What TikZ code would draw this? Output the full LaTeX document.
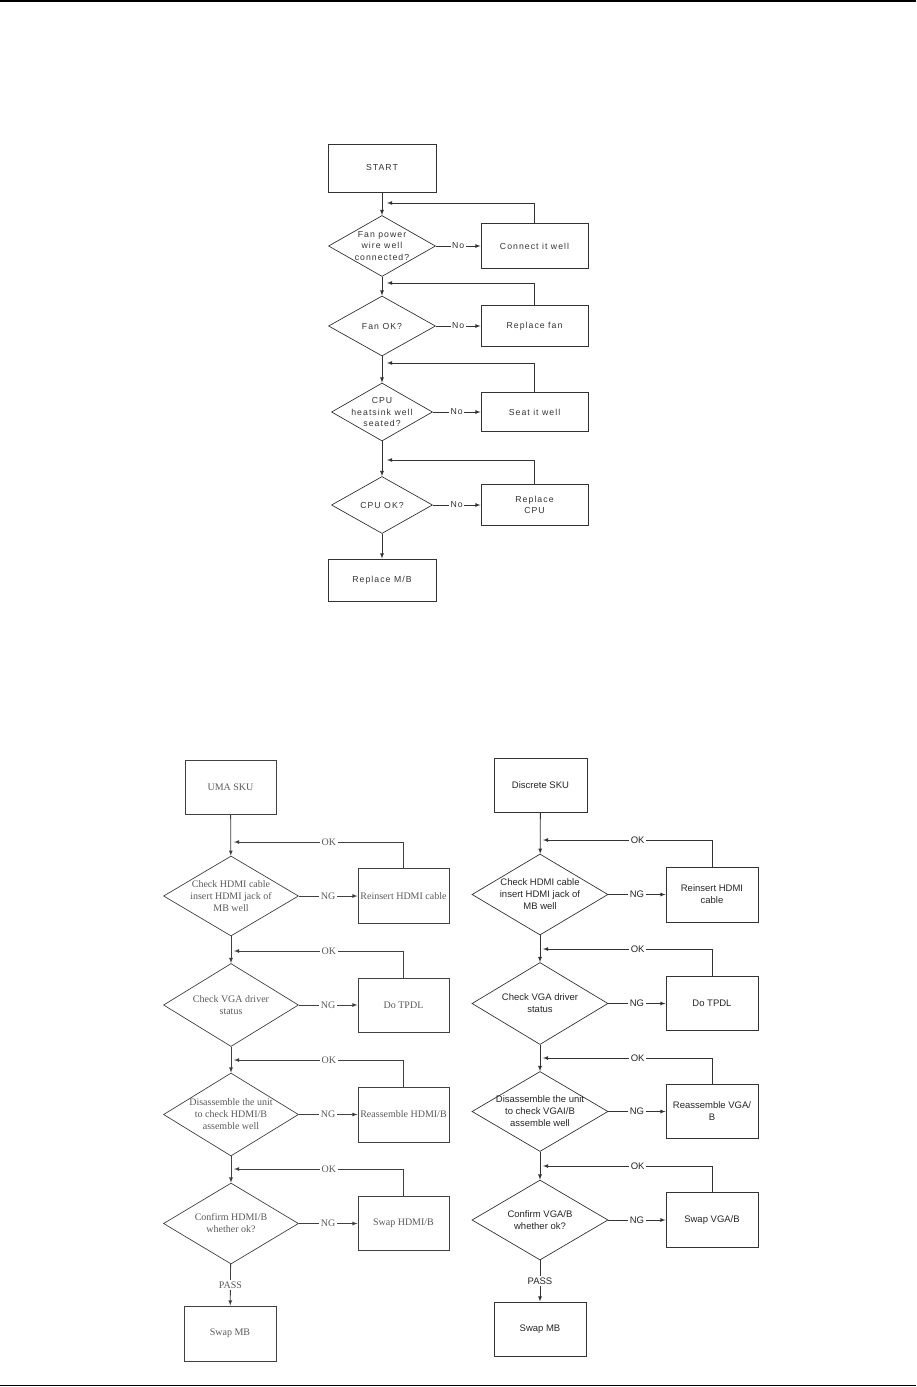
\documentclass[tikz,border=0pt]{standalone}
\usepackage{fontspec}
\setmainfont{Liberation Serif}
\setsansfont{Liberation Sans}
\newfontfamily\spacedsf[LetterSpace=12]{Liberation Sans}
\usepackage{tikz}
\usetikzlibrary{arrows}
\usetikzlibrary{shapes.geometric}
\definecolor{graytext}{HTML}{5A5A5A}
\definecolor{darkline}{HTML}{333333}

\begin{document}
\begin{tikzpicture}[x=1pt,y=-1pt,
  box/.style 2 args={draw,rectangle,line width=1pt,minimum width=#1pt,minimum height=#2pt,inner sep=1pt,align=center},
  dia/.style 2 args={draw,diamond,line width=0.7pt,minimum width=#1pt,minimum height=#2pt,inner sep=0pt},
  tag/.style={fill=white,inner sep=1.5pt},
  flow/.style={line width=0.8pt,-latex}]
\useasboundingbox (0,0) rectangle (916,1387);
% page rules
\draw[line width=1.5pt] (0,1) -- (916,1);
\draw[line width=1.5pt] (0,1385.5) -- (916,1385.5);

%% fan / cpu chart
\begin{scope}[font=\spacedsf\fontsize{8.7}{11.5}\selectfont,color=darkline]
\node[box={108}{48}] (start) at (382,168) {START};
\node[dia={107}{61},label={[align=center]center:Fan power\\wire well\\connected?}] (q1) at (382,246) {};
\node[dia={107}{60},label={center:Fan OK?}] (q2) at (382,326) {};
\node[dia={101}{58},label={[align=center]center:CPU\\heatsink well\\seated?}] (q3) at (382,412) {};
\node[dia={101}{57},label={center:CPU OK?}] (q4) at (382,505) {};
\node[box={108}{42}] (end) at (382,580) {Replace M/B};
\node[box={107}{45}] (a1) at (534.5,246) {Connect it well};
\node[box={107}{41}] (a2) at (534.5,326) {Replace fan};
\node[box={107}{39}] (a3) at (534.5,412) {Seat it well};
\node[box={107}{41}] (a4) at (534.5,505) {Replace\\CPU};
\foreach \a/\b in {start/q1,q1/q2,q2/q3,q3/q4,q4/end}
  \draw[flow] (\a) -- (\b);
\foreach \i/\y in {1/203,2/283,3/363,4/460} {
  \draw[flow] (q\i) -- node[tag]{No} (a\i);
  \coordinate (t\i) at (387,\y);
  \draw[flow] (a\i.north) |- (t\i);
}
\end{scope}

%% UMA SKU chart
\begin{scope}[font=\fontsize{10}{12}\selectfont,color=black!75,text=graytext]
\node[box={91}{54}] (u0) at (230.5,787) {UMA SKU};
\node[dia={135}{80},label={[align=center]center:Check HDMI cable\\insert HDMI jack of\\MB well}] (uq1) at (231,896) {};
\node[dia={135}{83},label={[align=center]center:Check VGA driver\\status}] (uq2) at (231,1005) {};
\node[dia={135}{83},label={[align=center]center:Disassemble the unit\\to check HDMI/B\\assemble well}] (uq3) at (231,1114.5) {};
\node[dia={135}{81},label={[align=center]center:Confirm HDMI/B\\whether ok?}] (uq4) at (231,1223.5) {};
\node[box={92}{55}] (umb) at (230,1333.5) {Swap MB};
\node[box={91}{55}] (ua1) at (403.5,896) {Reinsert HDMI cable};
\node[box={91}{54}] (ua2) at (403.5,1005) {Do TPDL};
\node[box={91}{55}] (ua3) at (403.5,1114.5) {Reassemble HDMI/B};
\node[box={91}{54}] (ua4) at (403.5,1223.5) {Swap HDMI/B};
\foreach \a/\b in {u0/uq1,uq1/uq2,uq2/uq3,uq3/uq4}
  \draw[flow] (\a) -- (\b);
\draw[flow] (uq4) -- node[tag]{PASS} (umb);
\foreach \i/\y in {1/842,2/951,3/1060,4/1169} {
  \draw[flow] (uq\i) -- node[tag]{NG} (ua\i);
  \coordinate (ut\i) at (234,\y);
  \draw[flow] (ua\i.north) |- node[tag,pos=0.72]{OK} (ut\i);
}
\end{scope}

%% Discrete SKU chart
\begin{scope}[font=\sffamily\fontsize{9.5}{12}\selectfont,color=darkline,text=black!85]
\node[box={93}{54}] (d0) at (540.5,785) {Discrete SKU};
\node[dia={136}{81},label={[align=center]center:Check HDMI cable\\insert HDMI jack of\\MB well}] (dq1) at (540,894.5) {};
\node[dia={136}{82},label={[align=center]center:Check VGA driver\\status}] (dq2) at (540,1003.5) {};
\node[dia={136}{80},label={[align=center]center:Disassemble the unit\\to check VGAI/B\\assemble well}] (dq3) at (540,1111.5) {};
\node[dia={136}{80},label={[align=center]center:Confirm VGA/B\\whether ok?}] (dq4) at (540,1220) {};
\node[box={92}{54}] (dmb) at (540,1329) {Swap MB};
\node[box={92}{55}] (da1) at (712,894.5) {Reinsert HDMI\\cable};
\node[box={92}{54}] (da2) at (712,1003.5) {Do TPDL};
\node[box={92}{54}] (da3) at (712,1111.5) {Reassemble VGA/\\B};
\node[box={92}{55}] (da4) at (712,1220) {Swap VGA/B};
\foreach \a/\b in {d0/dq1,dq1/dq2,dq2/dq3,dq3/dq4}
  \draw[flow] (\a) -- (\b);
\draw[flow] (dq4) -- node[tag]{PASS} (dmb);
\foreach \i/\y in {1/840,2/949,3/1058,4/1166} {
  \draw[flow] (dq\i) -- node[tag]{NG} (da\i);
  \coordinate (dt\i) at (543,\y);
  \draw[flow] (da\i.north) |- node[tag,pos=0.72]{OK} (dt\i);
}
\end{scope}
\end{tikzpicture}
\end{document}
